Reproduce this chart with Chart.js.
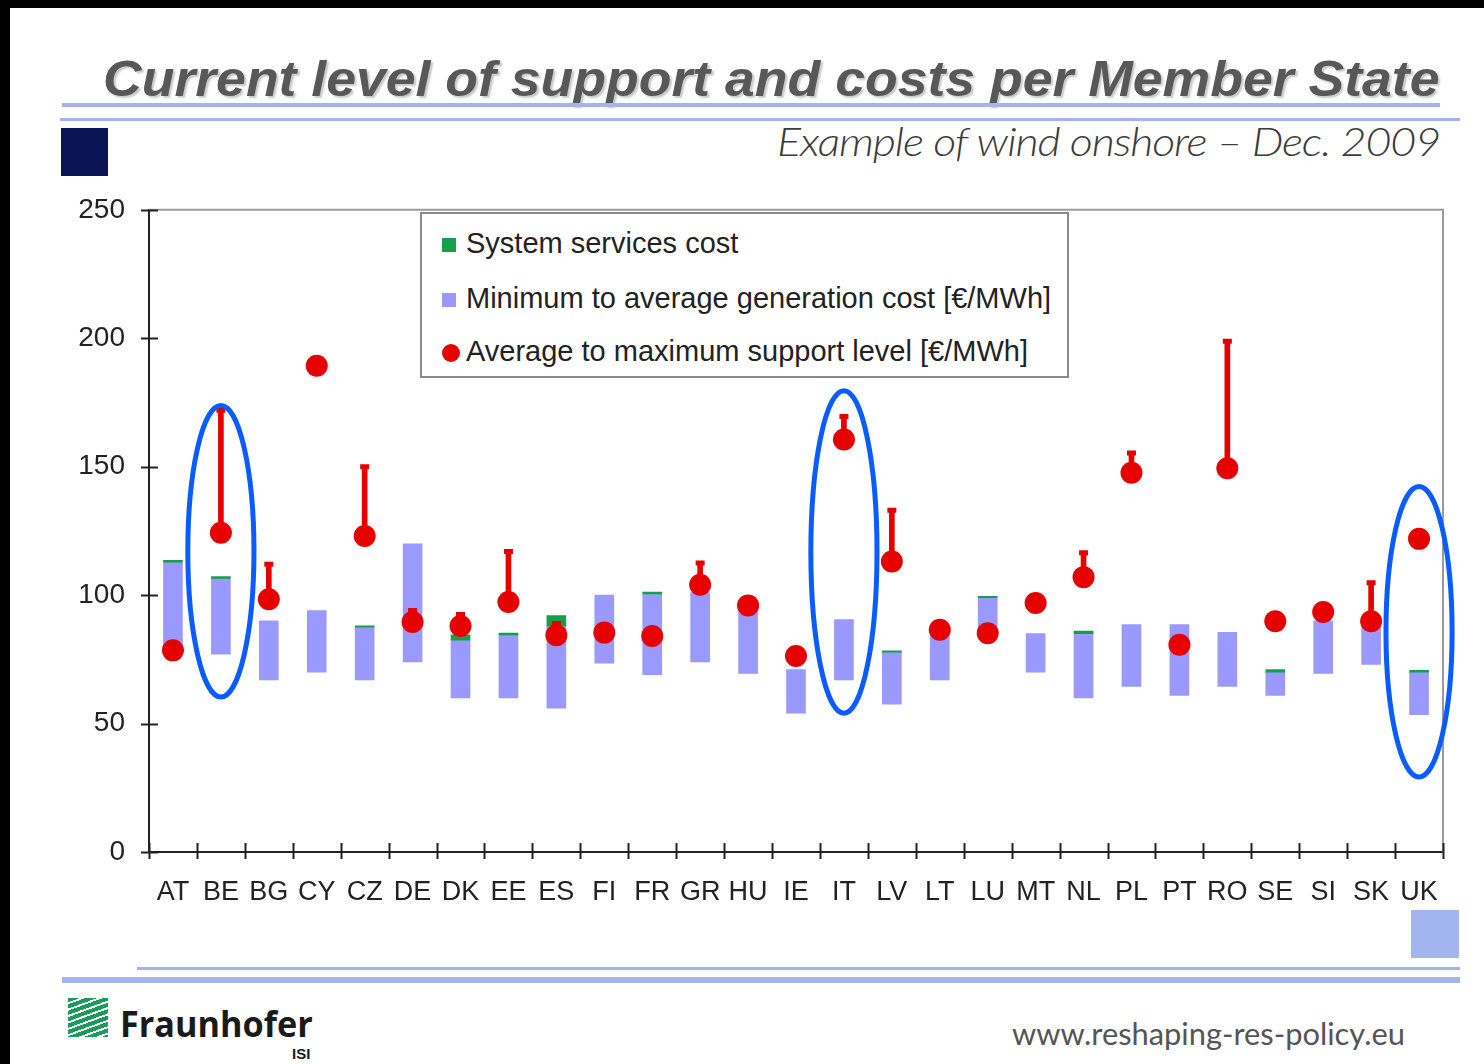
<!DOCTYPE html>
<html>
<head>
<meta charset="utf-8">
<script src="https://cdn.jsdelivr.net/npm/chart.js@4.4.1/dist/chart.umd.min.js"></script>
<style>
    body { margin: 0; width: 1484px; height: 1064px; background: #fff; position: relative; overflow: hidden; font-family: "Liberation Sans", Arial, sans-serif; }
    .abs { position: absolute; }
    .fit { white-space: nowrap; display: inline-block; }
    #chart-box { position: absolute; left: 20px; top: 169px; width: 1442px; height: 761px; }
    #legend { position: absolute; left: 420px; top: 212px; width: 645px; height: 162px; border: 2px solid #8a8a8a; background: #fff; font-size: 29px; color: #222; }
    #legend .row { position: absolute; left: 20px; height: 30px; line-height: 30px; }
    #legend .sw { display: inline-block; vertical-align: middle; margin-right: 10px; }
</style>
</head>
<body>
<!-- slide frame -->
<div class="abs" style="left:0;top:0;width:1484px;height:8px;background:#000"></div>
<div class="abs" style="left:0;top:0;width:10px;height:1064px;background:#000"></div>

<div class="abs fit" id="title" data-w="1337" data-origin="left" style="left:103px;top:50px;font-size:50px;font-weight:bold;font-style:italic;color:#585858;text-shadow:2px 2px 2px #c8c8c8;">Current level of support and costs per Member State</div>
<div class="abs" style="left:62px;top:103px;width:1378px;height:4px;background:#a3b5ee"></div>
<div class="abs" style="left:60px;top:118px;width:1400px;height:3px;background:#a3b5ee"></div>
<div class="abs" style="left:61px;top:128px;width:47px;height:48px;background:#0b1555"></div>
<div class="abs fit" id="subtitle" data-w="663" data-origin="right" style="right:44px;top:117px;font-size:40px;font-family:Lato,'Open Sans',sans-serif;font-weight:300;font-style:italic;color:#3c3c3c;letter-spacing:-1px;">Example of wind onshore – Dec. 2009</div>

<div id="chart-box"><canvas id="chart"></canvas></div>

<div id="legend">
    <div class="row" style="top:14px"><span class="sw" style="width:14px;height:14px;background:#14a04a"></span>System services cost</div>
    <div class="row" style="top:69px"><span class="sw" style="width:14px;height:14px;background:#9999ff"></span>Minimum to average generation cost [€/MWh]</div>
    <div class="row" style="top:122px"><span class="sw" style="width:18px;height:18px;border-radius:50%;background:#e60000;margin-right:6px"></span>Average to maximum support level [€/MWh]</div>
</div>

<!-- footer -->
<div class="abs" style="left:1411px;top:910px;width:48px;height:48px;background:#a3b5ee"></div>
<div class="abs" style="left:137px;top:967px;width:1323px;height:3px;background:#a3b5ee"></div>
<div class="abs" style="left:62px;top:977px;width:1398px;height:6px;background:#a3b5ee"></div>
<div class="abs" style="left:68px;top:998px;width:40px;height:39px;background:repeating-linear-gradient(160deg,#1a9b5a 0px,#1a9b5a 4px,#ffffff 4px,#ffffff 6px);"></div>
<div class="abs fit" id="fh" data-w="193" data-origin="left" style="left:120px;top:999px;font-size:36px;font-weight:bold;color:#1a1a1a;font-family:'Open Sans','Liberation Sans',sans-serif;">Fraunhofer</div>
<div class="abs" style="left:292px;top:1045px;font-size:15px;font-weight:bold;color:#1a1a1a;">ISI</div>
<div class="abs fit" id="url" data-w="393" data-origin="left" style="left:1012px;top:1014px;font-size:31px;font-family:Lato,'Open Sans',sans-serif;color:#555;">www.reshaping-res-policy.eu</div>

<script>
// countries on the x axis
const categories = ['AT', 'BE', 'BG', 'CY', 'CZ', 'DE', 'DK', 'EE', 'ES', 'FI', 'FR', 'GR', 'HU', 'IE', 'IT', 'LV', 'LT', 'LU', 'MT', 'NL', 'PL', 'PT', 'RO', 'SE', 'SI', 'SK', 'UK'];

// generation cost range [€/MWh]
const genMin = [80, 77, 67, 70, 67, 74, 60, 60, 56, 73.5, 69, 74, 69.5, 54, 67, 57.5, 67, 84, 70, 60, 64.5, 61, 64.5, 61, 69.5, 73, 53.5];
const genAvg = [112.8, 106.5, 90, 94, 87.5, 120, 82.5, 84.5, 88, 100, 100.5, 101, 94, 71, 90.5, 77.8, 86, 99, 85, 85, 88.5, 88.5, 85.5, 70, 90, 88, 70];

// system services cost, on top of the generation cost
const sysCost = [0.7, 0.7, 0, 0, 0.5, 0, 2, 0.7, 4, 0, 0.7, 0, 0, 0, 0, 0.5, 0, 0.5, 0, 1, 0, 0, 0, 1, 0, 0, 0.7];

// support level [€/MWh]
const supportAvg = [78.5, 124.3, 98.4, 189.3, 123, 89.5, 88, 97.3, 84.4, 85.4, 84.1, 104, 96, 76.3, 160.6, 113.1, 86.5, 85.2, 96.9, 107, 147.6, 80.7, 149.4, 89.8, 93.4, 89.8, 121.9];
const supportMax = [null, 172, 112, null, 150, 94, 92.5, 117, 89, null, null, 112.5, null, null, 169.5, 133, null, null, null, 116.5, 155.3, null, 198.8, null, null, 104.8, null];

const yTicks = [0, 50, 100, 150, 200, 250];

// blue ellipses marking countries on the slide (value span)
const highlight = ['BE', 'IT', 'UK'];
const highlightLow = [60.3, 54, 29.2];
const highlightHigh = [173.8, 179.6, 142.3];

const RED = '#e60000';
const LAVENDER = '#9999ff';
const GREEN = '#14a04a';
const AXIS = '#222';

// fit the decorative texts to their widths
document.querySelectorAll('.fit').forEach(function(el) {
    var w = parseFloat(el.dataset.w);
    var s = w / el.offsetWidth;
    el.style.transformOrigin = el.dataset.origin === 'right' ? 'right top' : 'left top';
    el.style.transform = 'scaleX(' + s + ')';
});

var genRange = genMin.map(function(v, i) { return [v, genAvg[i]]; });
var sysRange = sysCost.map(function(v, i) { return v > 0 ? [genAvg[i], genAvg[i] + v] : null; });
var whisker = supportMax.map(function(v, i) { return v === null ? null : [supportAvg[i], v]; });

// ticks that cross the axes, the grey frame at top / right, and the ellipses
const axisExtras = {
    id: 'axisExtras',
    afterDraw: function(chart) {
        var ctx = chart.ctx;
        var area = chart.chartArea;
        var x = chart.scales.x;
        var y = chart.scales.y;
        ctx.save();
        ctx.strokeStyle = '#9a9a9a';
        ctx.lineWidth = 2;
        ctx.beginPath();
        ctx.moveTo(area.left, area.top);
        ctx.lineTo(area.right, area.top);
        ctx.lineTo(area.right, area.bottom);
        ctx.stroke();

        ctx.strokeStyle = AXIS;
        ctx.lineWidth = 2;
        ctx.beginPath();
        yTicks.forEach(function(t) {
            var py = Math.round(y.getPixelForValue(t)) + 0.5;
            ctx.moveTo(area.left - 8, py);
            ctx.lineTo(area.left + 9, py);
        });
        var half = (x.getPixelForValue(1) - x.getPixelForValue(0)) / 2;
        for (var i = 0; i <= categories.length; i++) {
            var px = Math.round(x.getPixelForValue(i) - half) + 0.5;
            ctx.moveTo(px, area.bottom - 9);
            ctx.lineTo(px, area.bottom + 7);
        }
        ctx.stroke();

        ctx.strokeStyle = '#0a5cff';
        ctx.lineWidth = 5;
        highlight.forEach(function(c, k) {
            var cx = x.getPixelForValue(categories.indexOf(c));
            var top = y.getPixelForValue(highlightHigh[k]);
            var bottom = y.getPixelForValue(highlightLow[k]);
            ctx.beginPath();
            ctx.ellipse(cx, (top + bottom) / 2, half * 1.38, (bottom - top) / 2, 0, 0, Math.PI * 2);
            ctx.stroke();
        });
        ctx.restore();
    }
};

Chart.defaults.font.family = '"Liberation Sans", Arial, sans-serif';
Chart.defaults.color = AXIS;

var ctx = document.getElementById('chart').getContext('2d');
var chart = new Chart(ctx, {
    data: {
        labels: categories,
        datasets: [
            {
                type: 'line',
                label: 'Average support',
                data: supportAvg,
                showLine: false,
                pointRadius: 11,
                pointHoverRadius: 11,
                pointBorderWidth: 0,
                backgroundColor: RED,
                borderColor: RED,
                order: 0
            },
            {
                type: 'line',
                label: 'Max cap',
                data: supportMax,
                showLine: false,
                pointStyle: 'line',
                pointRadius: 4.5,
                pointHoverRadius: 4.5,
                pointBorderWidth: 5,
                borderColor: RED,
                backgroundColor: RED,
                order: 1
            },
            {
                type: 'bar',
                label: 'Average to maximum support level',
                data: whisker,
                backgroundColor: RED,
                barThickness: 5,
                grouped: false,
                order: 2
            },
            {
                type: 'bar',
                label: 'System services cost',
                data: sysRange,
                backgroundColor: GREEN,
                barThickness: 19,
                grouped: false,
                order: 3
            },
            {
                type: 'bar',
                label: 'Minimum to average generation cost',
                data: genRange,
                backgroundColor: LAVENDER,
                barThickness: 19,
                grouped: false,
                order: 4
            }
        ]
    },
    options: {
        responsive: true,
        maintainAspectRatio: false,
        animation: false,
        devicePixelRatio: 1,
        layout: { padding: { top: 19, right: 0, bottom: 0, left: 0 } },
        plugins: {
            legend: { display: false },
            tooltip: { enabled: false }
        },
        scales: {
            x: {
                type: 'category',
                offset: true,
                grid: { offset: true, drawOnChartArea: false, drawTicks: false },
                border: { color: AXIS, width: 2 },
                ticks: { font: { size: 27 }, color: AXIS, padding: 24, maxRotation: 0, autoSkip: false },
                afterFit: function(scale) { scale.height = 78; }
            },
            y: {
                min: 0,
                max: 250,
                grid: { drawOnChartArea: false, drawTicks: false },
                border: { color: AXIS, width: 2 },
                ticks: { stepSize: 50, font: { size: 28 }, color: AXIS, padding: 24 },
                afterFit: function(scale) { scale.width = 129; }
            }
        }
    },
    plugins: [axisExtras]
});
</script>
</body>
</html>
